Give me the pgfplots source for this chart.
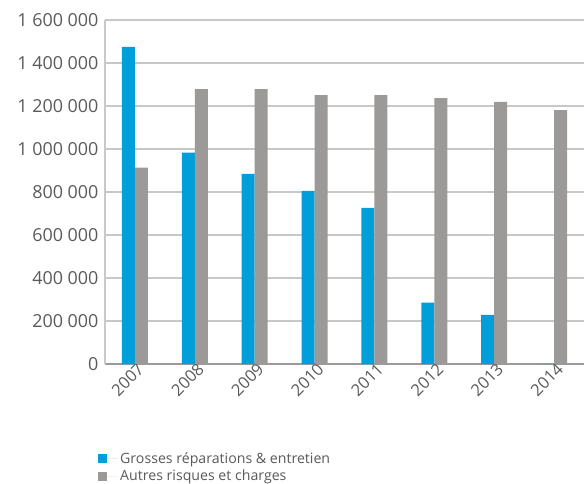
\documentclass[border=0pt]{standalone}
\usepackage{pgfplots}
\pgfplotsset{compat=1.18}
\usepackage{fontspec}
\setmainfont{Open Sans}
\definecolor{bleu}{HTML}{009FDA}
\definecolor{gris}{HTML}{9B9A98}
\definecolor{texte}{HTML}{5A5A5A}
\definecolor{grille}{HTML}{C8C8C8}
\begin{document}
\begin{tikzpicture}
  \begin{axis}[
      name=ax,
      width=479bp, height=344bp, scale only axis,
      xmin=-0.5, xmax=7.5, ymin=0, ymax=1600000,
      ybar=0pt, bar width=13bp,
      xtick=data, xticklabels={2007,2008,2009,2010,2011,2012,2013,2014},
      ytick={0,200000,...,1600000},
      scaled y ticks=false,
      y tick label style={/pgf/number format/fixed, /pgf/number format/precision=0,
        /pgf/number format/assume math mode=true, /pgf/number format/1000 sep={\ }},
      axis x line*=bottom, axis y line*=left,
      x axis line style={draw=gris, line width=1.6bp},
      y axis line style={draw=grille, line width=1.4bp},
      ymajorgrids, major grid style={draw=grille, line width=1.3bp},
      major tick length=0pt,
      yticklabel style={font=\fontsize{18}{21}\selectfont, text=texte, xshift=-3bp},
      xticklabel style={font=\fontsize{16.5}{19}\selectfont, text=texte, rotate=45, anchor=east, xshift=6bp, yshift=-6bp},
      legend style={at={(0,0)}, anchor=north west, xshift=-7bp, yshift=-86bp,
        draw=none, font=\fontsize{14.2}{16}\selectfont, text=texte,
        row sep=1.5bp, inner sep=0pt},
      legend cell align=left,
      legend image code/.code={\fill[#1] (0bp,-4.5bp) rectangle (9bp,4.5bp);
        \path (0bp,0bp) -- (20bp,0bp);},
    ]
    \addplot[fill=bleu, draw=none] coordinates {
        (0, 1475000)
        (1, 983000)
        (2, 884000)
        (3, 805000)
        (4, 726000)
        (5, 285000)
        (6, 228000)
        (7, 0)
    };
    \addplot[fill=gris, draw=none] coordinates {
        (0, 913000)
        (1, 1279000)
        (2, 1279000)
        (3, 1251000)
        (4, 1251000)
        (5, 1237000)
        (6, 1219000)
        (7, 1181000)
    };
    \legend{Grosses réparations \& entretien, Autres risques et charges}
  \end{axis}
  \pgfresetboundingbox
  \useasboundingbox ([xshift=-105bp,yshift=-119bp]ax.south west) rectangle ([yshift=20bp]ax.north east);
\end{tikzpicture}
\end{document}
